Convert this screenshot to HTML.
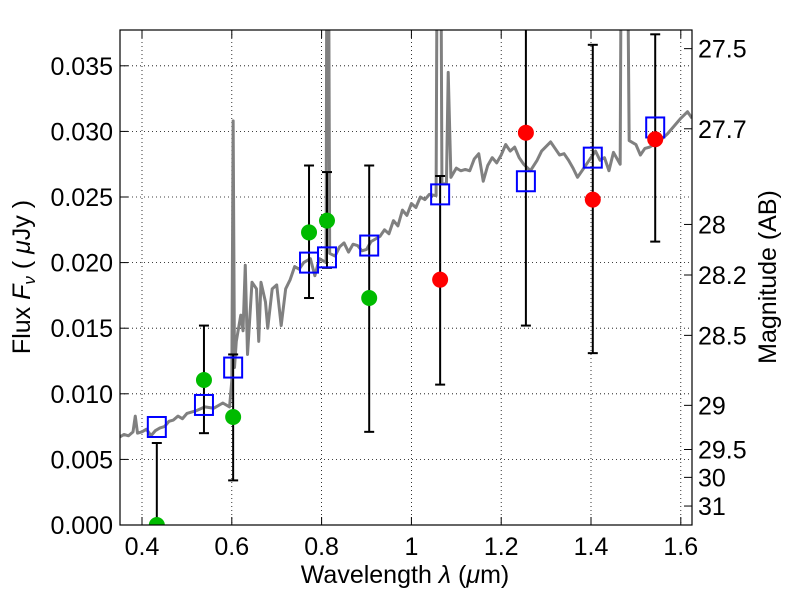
<!DOCTYPE html>
<html><head><meta charset="utf-8"><style>
body{margin:0;background:#fff;}
svg text{font-family:"Liberation Sans","DejaVu Sans",sans-serif;font-size:25px;fill:#000;}
</style></head><body>
<svg id="chart" width="800" height="600" viewBox="0 0 800 600" xmlns="http://www.w3.org/2000/svg">
<defs><clipPath id="plotclip"><rect x="120" y="30" width="572" height="495"/></clipPath></defs>
<g id="grid"></g>
<g id="series" clip-path="url(#plotclip)"></g>
<rect x="120" y="30" width="572" height="495" fill="none" stroke="#000" stroke-width="1.2"/>
<g id="axes"></g>
<text x="405" y="583" text-anchor="middle">Wavelength  <tspan font-style="italic">λ</tspan> (<tspan font-style="italic">μ</tspan>m)</text>
<text transform="translate(30,277) rotate(-90)" text-anchor="middle">Flux  <tspan font-style="italic">F</tspan><tspan font-style="italic" font-size="17" dy="5">ν</tspan><tspan dy="-5">  ( </tspan><tspan font-style="italic">μ</tspan>Jy )</text>
<text transform="translate(776,277) rotate(-90)" text-anchor="middle">Magnitude (AB)</text>
</svg>
<script>
const xTicks=[0.4,0.6,0.8,1.0,1.2,1.4,1.6];
const xTickLabels=["0.4","0.6","0.8","1","1.2","1.4","1.6"];
const yTicks=[0,0.005,0.01,0.015,0.02,0.025,0.03,0.035];
const yTickLabels=["0.000","0.005","0.010","0.015","0.020","0.025","0.030","0.035"];
const magTicks=[27.5,27.7,28,28.2,28.5,29,29.5,30,31];
const magTickLabels=["27.5","27.7","28","28.2","28.5","29","29.5","30","31"];
const bandWave=[0.433,0.538,0.603,0.772,0.812,0.906,1.064,1.255,1.404,1.543];
const modelFlux=[0.00747,0.00915,0.0120,0.0200,0.0204,0.0213,0.0252,0.0262,0.0280,0.0303];
const obsFlux=[0.0,0.01105,0.00823,0.0223,0.0232,0.0173,0.0187,0.0299,0.0248,0.0294];
const obsColor=["#00bb00","#00bb00","#00bb00","#00bb00","#00bb00","#00bb00","#ff0000","#ff0000","#ff0000","#ff0000"];
const errLow=[-0.003,0.0070,0.0034,0.0173,0.0196,0.0071,0.0107,0.0152,0.0131,0.0216];
const errHigh=[0.00625,0.0152,0.0130,0.0274,0.0269,0.0274,0.0266,0.0420,0.0366,0.0374];
const specWave=[0.35,0.36,0.37,0.38,0.385,0.39,0.40,0.41,0.42,0.43,0.44,0.45,0.46,0.47,0.48,0.49,0.50,0.52,0.54,0.56,0.58,0.595,0.600,0.603,0.606,0.61,0.62,0.625,0.63,0.635,0.645,0.655,0.66,0.665,0.675,0.68,0.69,0.70,0.71,0.72,0.73,0.74,0.75,0.76,0.775,0.785,0.795,0.81,0.812,0.815,0.818,0.83,0.84,0.85,0.86,0.87,0.88,0.89,0.90,0.91,0.92,0.93,0.94,0.95,0.96,0.97,0.98,0.99,1.0,1.01,1.02,1.03,1.04,1.055,1.058,1.065,1.068,1.078,1.082,1.088,1.1,1.11,1.12,1.13,1.14,1.15,1.16,1.17,1.18,1.19,1.2,1.21,1.22,1.23,1.24,1.25,1.265,1.28,1.29,1.31,1.32,1.33,1.34,1.35,1.36,1.37,1.38,1.39,1.40,1.41,1.42,1.43,1.44,1.45,1.465,1.468,1.48,1.485,1.50,1.51,1.52,1.53,1.55,1.57,1.58,1.60,1.615,1.625];
const specFlux=[0.0067,0.0069,0.0068,0.0071,0.0083,0.0070,0.0071,0.0073,0.0068,0.0072,0.0074,0.0075,0.0079,0.0080,0.0083,0.0081,0.0085,0.0087,0.0090,0.0089,0.0093,0.0090,0.011,0.0308,0.012,0.014,0.016,0.0148,0.0198,0.013,0.0185,0.018,0.014,0.0185,0.017,0.015,0.018,0.0183,0.0152,0.0180,0.0187,0.0197,0.0195,0.0200,0.0203,0.0190,0.0203,0.0200,0.05,0.05,0.0207,0.0205,0.0212,0.0215,0.0208,0.0214,0.0213,0.0209,0.0210,0.0216,0.0218,0.0220,0.0225,0.0222,0.0232,0.0228,0.0240,0.0236,0.0245,0.0242,0.0250,0.0248,0.0252,0.0251,0.05,0.05,0.0260,0.0260,0.0345,0.0265,0.0272,0.0270,0.0271,0.0270,0.0279,0.0283,0.0262,0.0274,0.0280,0.0276,0.0282,0.0290,0.0285,0.0288,0.0280,0.0275,0.0270,0.0278,0.0285,0.0292,0.0287,0.0282,0.0283,0.0278,0.0272,0.0265,0.0270,0.0275,0.0280,0.0285,0.0278,0.0280,0.0270,0.0284,0.0275,0.05,0.05,0.0293,0.0290,0.0282,0.0287,0.0288,0.0292,0.0298,0.0302,0.0310,0.0315,0.0310];

const NS="http://www.w3.org/2000/svg";
const X=v=>142+(v-0.4)*449;
const Y=f=>525-f*13120;
const magToFlux=m=>Math.pow(10,(23.9-m)/2.5);
function mk(tag,attrs,parent,txt){const e=document.createElementNS(NS,tag);for(const k in attrs)e.setAttribute(k,attrs[k]);if(txt!==undefined)e.textContent=txt;parent.appendChild(e);return e;}
const grid=document.getElementById('grid'),axes=document.getElementById('axes'),ser=document.getElementById('series');
xTicks.forEach((t,i)=>{
  const g=mk('line',{x1:X(t),x2:X(t),y1:30,y2:525,stroke:'#000','stroke-width':0.8,'stroke-dasharray':'1,3'},grid);
  
  
  mk('line',{x1:X(t),x2:X(t),y1:525,y2:517,stroke:'#000'},axes);
  mk('line',{x1:X(t),x2:X(t),y1:30,y2:38,stroke:'#000'},axes);
  const l=mk('text',{x:X(t),y:555,'text-anchor':'middle'},axes,xTickLabels[i]);
  
  
});
yTicks.forEach((t,i)=>{
  const g=mk('line',{x1:120,x2:692,y1:Y(t),y2:Y(t),stroke:'#000','stroke-width':0.8,'stroke-dasharray':'1,3'},grid);
  
  
  mk('line',{x1:120,x2:128,y1:Y(t),y2:Y(t),stroke:'#000'},axes);
  const l=mk('text',{x:113,y:Y(t)+9,'text-anchor':'end'},axes,yTickLabels[i]);
  
  
});
magTicks.forEach((m,i)=>{
  const y=Y(magToFlux(m));
  mk('line',{x1:692,x2:684,y1:y,y2:y,stroke:'#000'},axes);
  const l=mk('text',{x:698,y:y+9},axes,magTickLabels[i]);
  
  
});
const sp=mk('polyline',{points:specWave.map((w,i)=>X(w)+','+Y(specFlux[i])).join(' '),fill:'none',stroke:'#808080','stroke-width':3,'stroke-linejoin':'round'},ser);


bandWave.forEach((w,i)=>{
  const x=X(w);
  const e=mk('g',{stroke:'#000','stroke-width':2},ser);
  
  
  mk('line',{x1:x,x2:x,y1:Y(errLow[i]),y2:Y(errHigh[i])},e);
  mk('line',{x1:x-5,x2:x+5,y1:Y(errLow[i]),y2:Y(errLow[i])},e);
  mk('line',{x1:x-5,x2:x+5,y1:Y(errHigh[i]),y2:Y(errHigh[i])},e);
});
bandWave.forEach((w,i)=>{
  const s=mk('rect',{x:X(w)-9,y:Y(modelFlux[i])-10,width:18,height:20,fill:'none',stroke:'#0000ff','stroke-width':2},ser);
  
  
});
bandWave.forEach((w,i)=>{
  const c=mk('circle',{cx:X(w),cy:Y(obsFlux[i]),r:8,fill:obsColor[i]},ser);
  
  
});
</script>
</body></html>
